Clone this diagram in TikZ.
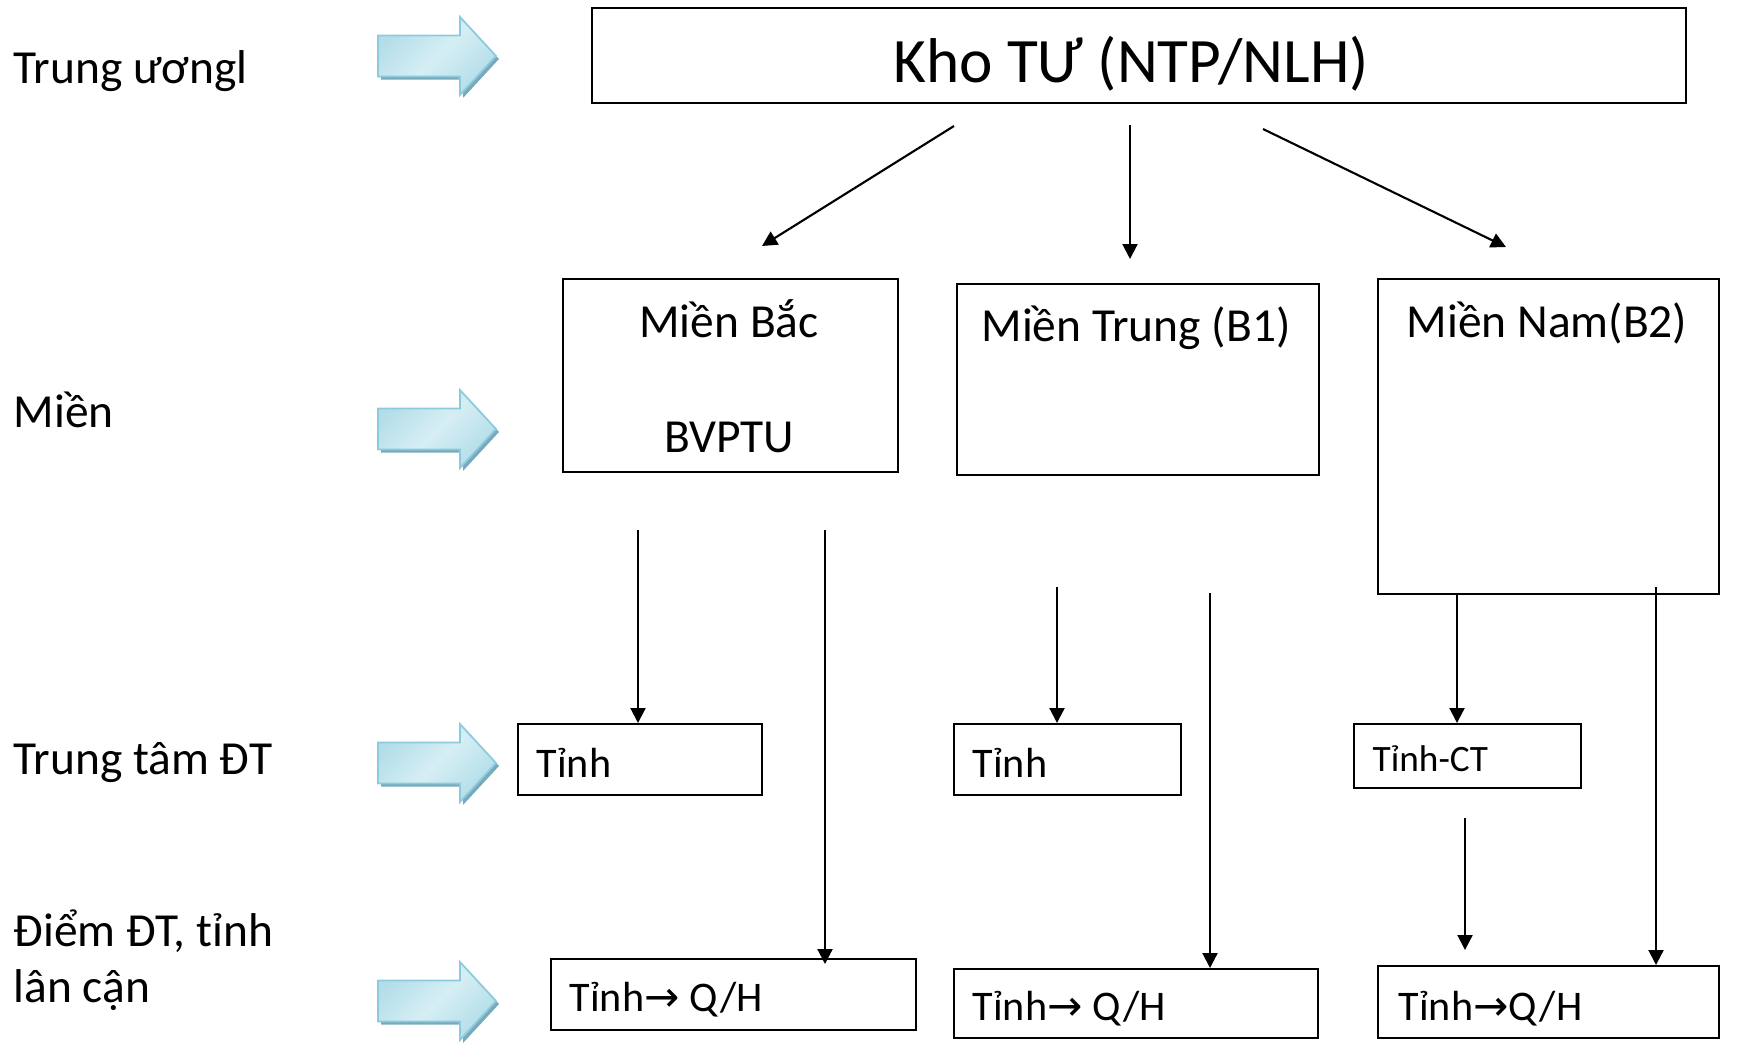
\documentclass[tikz,border=0pt]{standalone}
\usepackage{fontspec}
\setmainfont{Carlito}
\newfontfamily\symfont{DejaVu Sans}
\usetikzlibrary{arrows.meta,calc,positioning}
\definecolor{arrfill}{RGB}{178,221,233}
\definecolor{arrlight}{RGB}{214,238,244}
\definecolor{arredge}{RGB}{140,203,221}
\definecolor{arrshadow}{RGB}{120,170,188}
\newcommand{\toarr}{{\symfont\char"2192}}
\tikzset{
  >={Triangle[length=1.5mm,width=1.5mm]},
  box/.style={draw=black,line width=0.6pt,anchor=north west,inner sep=0pt},
  lvl/.style={anchor=base west,inner sep=0pt,font=\fontsize{13.5}{16}\selectfont},
  ttl/.style={anchor=base,inner sep=0pt,font=\fontsize{13.5}{16}\selectfont},
  lf/.style={anchor=base west,inner sep=0pt,font=\fontsize{12}{14}\selectfont},
  link/.style={->,line width=0.6pt},
  blockarr/.pic={
    \fill[arrshadow] (0.03,0.175) -- (0.85,0.175) -- (0.85,0.36) -- (1.21,-0.03)
      -- (0.85,-0.42) -- (0.85,-0.235) -- (0.03,-0.235) -- cycle;
    \shade[left color=arrfill,right color=arrfill,middle color=arrlight,
      shading angle=45,draw=arredge,line width=0.5pt]
      (0,0.205) -- (0.82,0.205) -- (0.82,0.39) -- (1.18,0)
      -- (0.82,-0.39) -- (0.82,-0.205) -- (0,-0.205) -- cycle;
  },
}
\begin{document}
\begin{tikzpicture}
  \useasboundingbox (0,0) rectangle (17.53,-10.45);
  % level labels and block arrows
  \node[lvl] (lv1) at (0.13,-0.83) {Trung ươngl};
  \node[lvl] (lv2) at (0.13,-4.27) {Miền};
  \node[lvl] (lv3) at (0.13,-7.74) {Trung tâm ĐT};
  \node[lvl] (lv4) at (0.13,-9.46) {Điểm ĐT, tỉnh};
  \node[lvl] (lv4b) at (0.13,-10.02) {lân cận};
  \foreach \y in {-0.56,-4.29,-7.63,-10.01}
    \pic at (3.78,\y) {blockarr};
  % central store
  \node[box,minimum width=10.94cm,minimum height=0.95cm] (kho) at (5.91,-0.07) {};
  \node[ttl,font=\fontsize{18}{22}\selectfont] (khot) at (11.31,-0.82) {Kho TƯ (NTP/NLH)};
  % regions
  \node[box,minimum width=3.35cm,minimum height=1.93cm] (mbac) at (5.62,-2.78) {};
  \node[ttl] (mbact) at (7.29,-3.37) {Miền Bắc};
  \node[ttl] (mbacb) at (7.29,-4.52) {BVPTU};
  \node[box,minimum width=3.62cm,minimum height=1.91cm] (mtrung) at (9.56,-2.83) {};
  \node[ttl] (mtrungt) at (11.36,-3.41) {Miền Trung (B1)};
  \node[box,minimum width=3.41cm,minimum height=3.15cm] (mnam) at (13.77,-2.78) {};
  \node[ttl] (mnamt) at (15.47,-3.37) {Miền Nam(B2)};
  % provinces
  \node[box,minimum width=2.44cm,minimum height=0.71cm] (tb) at (5.17,-7.23) {};
  \node[lf] (tbt) at (5.36,-7.77) {Tỉnh};
  \node[box,minimum width=2.27cm,minimum height=0.71cm] (tt) at (9.53,-7.23) {};
  \node[lf] (ttt) at (9.72,-7.77) {Tỉnh};
  \node[box,minimum width=2.27cm,minimum height=0.64cm] (tn) at (13.53,-7.23) {};
  \node[lf,font=\fontsize{10.6}{12}\selectfont] (tnt) at (13.72,-7.71) {Tỉnh-CT};
  % districts
  \node[box,minimum width=3.65cm,minimum height=0.71cm] (qb) at (5.50,-9.58) {};
  \node[lf] (qbt) at (5.69,-10.11) {Tỉnh\toarr\ Q/H};
  \node[box,minimum width=3.64cm,minimum height=0.69cm] (qt) at (9.53,-9.68) {};
  \node[lf] (qtt) at (9.72,-10.20) {Tỉnh\toarr\ Q/H};
  \node[box,minimum width=3.41cm,minimum height=0.72cm] (qn) at (13.77,-9.65) {};
  \node[lf] (qnt) at (13.98,-10.20) {Tỉnh\toarr Q/H};
  % connectors
  \coordinate (a1s) at (9.54,-1.26);  \coordinate (a1e) at (7.62,-2.46);
  \coordinate (a2s) at (11.30,-1.25); \coordinate (a2e) at (11.30,-2.59);
  \coordinate (a3s) at (12.63,-1.29); \coordinate (a3e) at (15.06,-2.47);
  \coordinate (b1s) at (6.38,-5.30);
  \coordinate (b2s) at (8.25,-5.30);  \coordinate (b2e) at (8.25,-9.64);
  \coordinate (c1s) at (10.57,-5.87);
  \coordinate (c2s) at (12.10,-5.93);
  \coordinate (d1s) at (14.57,-5.93);
  \coordinate (d2s) at (16.56,-5.87);
  \coordinate (es) at (14.65,-8.18);  \coordinate (ee) at (14.65,-9.50);
  \draw[link] (a1s) -- (a1e);
  \draw[link] (a2s) -- (a2e);
  \draw[link] (a3s) -- (a3e);
  \draw[link] (b1s) -- (b1s |- tb.north);
  \draw[link] (b2s) -- (b2e);
  \draw[link] (c1s) -- (c1s |- tt.north);
  \draw[link] (c2s) -- (c2s |- qt.north);
  \draw[link] (d1s) -- (d1s |- tn.north);
  \draw[link] (d2s) -- (d2s |- qn.north);
  \draw[link] (es) -- (ee);
\end{tikzpicture}
\end{document}
